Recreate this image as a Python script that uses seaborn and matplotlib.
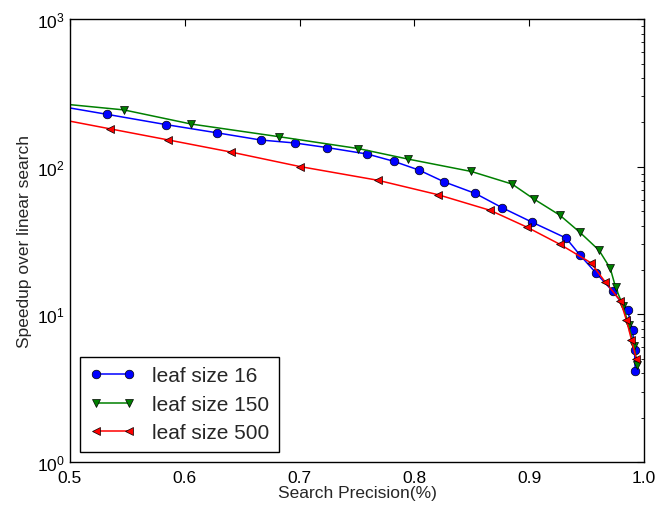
import numpy as np
import pandas as pd
import matplotlib
matplotlib.use("Agg")
import matplotlib.pyplot as plt
import seaborn as sns

# values (first point of each series sits left of 0.5, clipped)
prec_16 = [0.45, 0.532, 0.584, 0.628, 0.666, 0.696, 0.724, 0.759, 0.782, 0.804, 0.826,
           0.853, 0.876, 0.902, 0.932, 0.944, 0.958, 0.9725, 0.9855, 0.9899, 0.9916, 0.9922]
speed_16 = [292, 227, 193, 170, 152, 145, 135, 122, 109, 95, 79,
            66, 53, 42.3, 32.9, 25.3, 19.1, 14.4, 10.7, 7.83, 5.71, 4.12]

prec_150 = [0.45, 0.547, 0.6055, 0.682, 0.751, 0.794, 0.8495, 0.885, 0.904, 0.9266,
            0.944, 0.9607, 0.9705, 0.9751, 0.9816, 0.9866, 0.9913, 0.9939]
speed_150 = [288, 243, 195, 160, 133, 113, 93, 76.4, 60.5, 47.0,
             36.0, 27.2, 20.5, 15.3, 11.4, 8.43, 6.11, 4.56]

prec_500 = [0.45, 0.5347, 0.5858, 0.640, 0.700, 0.768, 0.8206, 0.866, 0.8977, 0.9268,
            0.9535, 0.9658, 0.9792, 0.9846, 0.9889, 0.9932]
speed_500 = [242, 181, 152, 126, 100.5, 81.1, 64.7, 50.7, 39.1, 29.8,
             22.4, 16.7, 12.4, 9.14, 6.75, 4.97]

series = [
    ("leaf size 16", prec_16, speed_16, "o", "#0000ff"),
    ("leaf size 150", prec_150, speed_150, "v", "#008000"),
    ("leaf size 500", prec_500, speed_500, "<", "#ff0000"),
]

sns.set_theme(style="white")
plt.rcParams["font.family"] = ["Liberation Sans", "DejaVu Sans"]
plt.rcParams["mathtext.fontset"] = "custom"
plt.rcParams["mathtext.rm"] = "Liberation Sans"
plt.rcParams["mathtext.it"] = "Liberation Sans:italic"

fig = plt.figure(figsize=(6.6, 5.06), dpi=100)
ax = fig.add_axes([0.106, 0.085, 0.870, 0.875])

for name, xs, ys, mk, col in series:
    df = pd.DataFrame({"precision": xs, "speedup": ys})
    sns.lineplot(data=df, x="precision", y="speedup", ax=ax, sort=False, estimator=None,
                 color=col, marker=mk, markersize=6.2, markeredgecolor="black",
                 markeredgewidth=0.5, linewidth=1.1, label=name)

ax.set_yscale("log")
ax.set_xlim(0.5, 1.0)
ax.set_ylim(1, 1000)
ax.set_xticks([0.5, 0.6, 0.7, 0.8, 0.9, 1.0])
ax.set_xticklabels(["0.5", "0.6", "0.7", "0.8", "0.9", "1.0"])
ax.tick_params(which="both", direction="in", top=True, right=True, colors="black",
               labelsize=12.5)
ax.tick_params(which="major", length=5, width=0.8)
ax.tick_params(which="minor", length=2.5, width=0.6)
ax.tick_params(axis="x", pad=6)
ax.tick_params(axis="y", pad=4)
ax.xaxis.set_minor_locator(matplotlib.ticker.NullLocator())
for sp in ax.spines.values():
    sp.set_color("black")
    sp.set_linewidth(1.0)

ax.set_xlabel("Search Precision(%)", fontsize=12.5, labelpad=0)
ax.set_ylabel("Speedup over linear search", fontsize=12.5, labelpad=3)

leg = ax.legend(loc="lower left", numpoints=2, fontsize=15, fancybox=False,
                frameon=True, framealpha=1, edgecolor="black", borderaxespad=0.5,
                handlelength=2.2, labelspacing=0.45, borderpad=0.45)
leg.get_frame().set_linewidth(1.0)

fig.savefig("out.png", dpi=100)
